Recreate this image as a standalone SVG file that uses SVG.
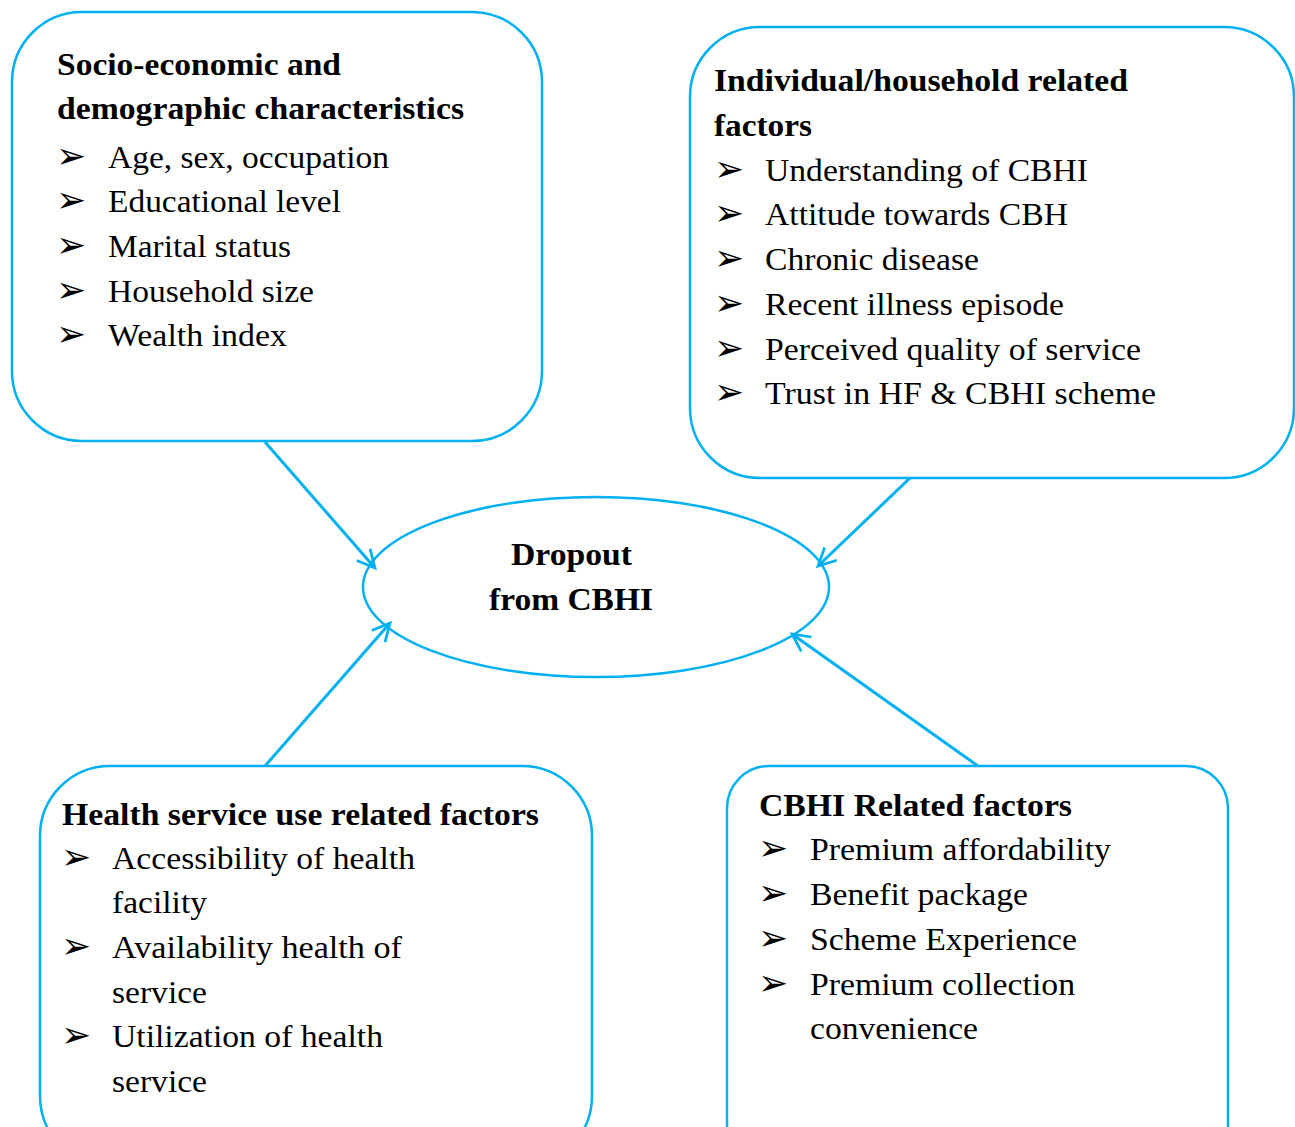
<svg xmlns="http://www.w3.org/2000/svg" width="1295" height="1127" viewBox="0 0 1295 1127">
<style>
.box{fill:#fff;stroke:#00B0F0;stroke-width:2.5}
.t{font-family:"Liberation Serif","DejaVu Serif",serif;font-size:31px;fill:#000}
.b{font-weight:bold}
.bul{font-family:"DejaVu Sans",sans-serif;font-size:36px;fill:#000}
.c{stroke:#00B0F0;stroke-width:3;fill:none}
</style>
<defs>
<marker id="ah" viewBox="0 0 20 20" refX="18" refY="10" markerWidth="22" markerHeight="22" markerUnits="userSpaceOnUse" orient="auto">
<path d="M2,2 L18,10 L2,18" fill="none" stroke="#00B0F0" stroke-width="2.5"/>
</marker>
</defs>
<g id="node-socio">
<rect class="box" x="12" y="12" width="530" height="429" rx="70"/>
<text class="t b" x="57" y="75" textLength="284" lengthAdjust="spacingAndGlyphs">Socio-economic and</text>
<text class="t b" x="57" y="119" textLength="407" lengthAdjust="spacingAndGlyphs">demographic characteristics</text>
<text class="bul" x="56" y="168">➢</text><text class="t" x="108" y="168" textLength="281" lengthAdjust="spacingAndGlyphs">Age, sex, occupation</text>
<text class="bul" x="56" y="212">➢</text><text class="t" x="108" y="212" textLength="233" lengthAdjust="spacingAndGlyphs">Educational level</text>
<text class="bul" x="56" y="257">➢</text><text class="t" x="108" y="257" textLength="183" lengthAdjust="spacingAndGlyphs">Marital status</text>
<text class="bul" x="56" y="302">➢</text><text class="t" x="108" y="302" textLength="206" lengthAdjust="spacingAndGlyphs">Household size</text>
<text class="bul" x="56" y="346">➢</text><text class="t" x="108" y="346" textLength="179" lengthAdjust="spacingAndGlyphs">Wealth index</text>
</g>
<g id="node-individual">
<rect class="box" x="690" y="27" width="604" height="451" rx="70"/>
<text class="t b" x="714" y="91" textLength="414" lengthAdjust="spacingAndGlyphs">Individual/household related</text>
<text class="t b" x="714" y="136" textLength="98" lengthAdjust="spacingAndGlyphs">factors</text>
<text class="bul" x="714" y="181">➢</text><text class="t" x="765" y="181" textLength="323" lengthAdjust="spacingAndGlyphs">Understanding of CBHI</text>
<text class="bul" x="714" y="225">➢</text><text class="t" x="765" y="225" textLength="303" lengthAdjust="spacingAndGlyphs">Attitude towards CBH</text>
<text class="bul" x="714" y="270">➢</text><text class="t" x="765" y="270" textLength="214" lengthAdjust="spacingAndGlyphs">Chronic disease</text>
<text class="bul" x="714" y="315">➢</text><text class="t" x="765" y="315" textLength="299" lengthAdjust="spacingAndGlyphs">Recent illness episode</text>
<text class="bul" x="714" y="360">➢</text><text class="t" x="765" y="360" textLength="376" lengthAdjust="spacingAndGlyphs">Perceived quality of service</text>
<text class="bul" x="714" y="404">➢</text><text class="t" x="765" y="404" textLength="391" lengthAdjust="spacingAndGlyphs">Trust in HF &amp; CBHI scheme</text>
</g>
<g id="node-dropout">
<ellipse class="box" cx="596" cy="587" rx="233" ry="90"/>
<text class="t b" x="511" y="565" textLength="121" lengthAdjust="spacingAndGlyphs">Dropout</text>
<text class="t b" x="489" y="610" textLength="164" lengthAdjust="spacingAndGlyphs">from CBHI</text>
</g>
<g id="node-health">
<rect class="box" x="40" y="766" width="552" height="400" rx="70"/>
<text class="t b" x="62" y="825" textLength="477" lengthAdjust="spacingAndGlyphs">Health service use related factors</text>
<text class="bul" x="61" y="869">➢</text><text class="t" x="112" y="869" textLength="303" lengthAdjust="spacingAndGlyphs">Accessibility of health</text>
<text class="t" x="112" y="913" textLength="95" lengthAdjust="spacingAndGlyphs">facility</text>
<text class="bul" x="61" y="958">➢</text><text class="t" x="112" y="958" textLength="290" lengthAdjust="spacingAndGlyphs">Availability health of</text>
<text class="t" x="112" y="1003" textLength="95" lengthAdjust="spacingAndGlyphs">service</text>
<text class="bul" x="61" y="1047">➢</text><text class="t" x="112" y="1047" textLength="271" lengthAdjust="spacingAndGlyphs">Utilization of health</text>
<text class="t" x="112" y="1092" textLength="95" lengthAdjust="spacingAndGlyphs">service</text>
</g>
<g id="node-cbhi">
<rect class="box" x="727" y="766" width="501" height="400" rx="42"/>
<text class="t b" x="759" y="816" textLength="313" lengthAdjust="spacingAndGlyphs">CBHI Related factors</text>
<text class="bul" x="758" y="860">➢</text><text class="t" x="810" y="860" textLength="301" lengthAdjust="spacingAndGlyphs">Premium affordability</text>
<text class="bul" x="758" y="905">➢</text><text class="t" x="810" y="905" textLength="218" lengthAdjust="spacingAndGlyphs">Benefit package</text>
<text class="bul" x="758" y="950">➢</text><text class="t" x="810" y="950" textLength="267" lengthAdjust="spacingAndGlyphs">Scheme Experience</text>
<text class="bul" x="758" y="995">➢</text><text class="t" x="810" y="995" textLength="265" lengthAdjust="spacingAndGlyphs">Premium collection</text>
<text class="t" x="810" y="1039" textLength="168" lengthAdjust="spacingAndGlyphs">convenience</text>
</g>
<g id="connectors">
<line class="c" x1="265" y1="442" x2="375" y2="568" marker-end="url(#ah)"/>
<line class="c" x1="910" y1="478" x2="818" y2="566" marker-end="url(#ah)"/>
<line class="c" x1="265" y1="766" x2="390" y2="623" marker-end="url(#ah)"/>
<line class="c" x1="978" y1="766" x2="792" y2="634" marker-end="url(#ah)"/>
</g>
</svg>
